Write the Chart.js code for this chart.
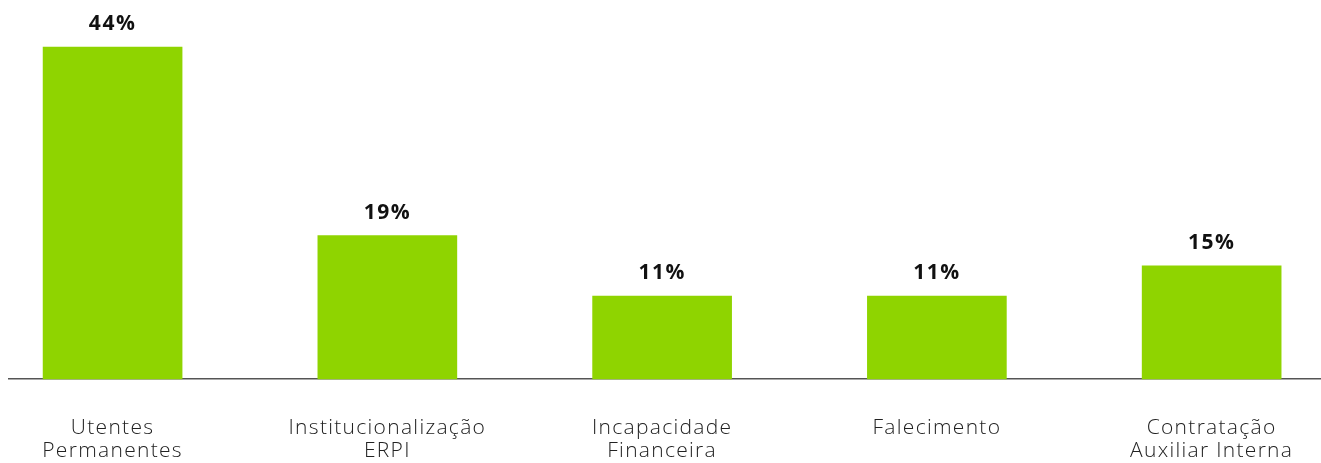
<!DOCTYPE html>
<html>
<head>
<meta charset="utf-8">
<script src="https://cdn.jsdelivr.net/npm/chart.js@4"></script>
<style>
html,body{margin:0;padding:0;background:#fff;}
#wrap{width:1321px;height:463px;position:relative;}
</style>
</head>
<body>
<div id="wrap"><canvas id="c"></canvas></div>
<script>
const categories = [
  ["Utentes", "Permanentes"],
  ["Institucionalização", "ERPI"],
  ["Incapacidade", "Financeira"],
  ["Falecimento"],
  ["Contratação", "Auxiliar Interna"]
];
const values = [44, 19, 11, 11, 15];
const valueLabels = ["44%", "19%", "11%", "11%", "15%"];

const barColor = "#8fd400";

const spacingPlugin = {
  id: "spacing",
  beforeDraw(chart) {
    if ("letterSpacing" in chart.ctx) chart.ctx.letterSpacing = "1.3px";
  }
};

const valueLabelPlugin = {
  id: "valueLabels",
  afterDatasetsDraw(chart) {
    const ctx = chart.ctx;
    const meta = chart.getDatasetMeta(0);
    ctx.save();
    if ("letterSpacing" in ctx) ctx.letterSpacing = "1.5px";
    ctx.font = "bold 21px 'Open Sans', 'DejaVu Sans', sans-serif";
    ctx.fillStyle = "#111";
    ctx.textAlign = "center";
    ctx.textBaseline = "alphabetic";
    meta.data.forEach((bar, i) => {
      ctx.fillText(valueLabels[i], bar.x, bar.y - 17);
    });
    ctx.restore();
  }
};

new Chart(document.getElementById("c"), {
  type: "bar",
  data: {
    datasets: [{
      data: values.map((v, i) => ({ x: i, y: v })),
      backgroundColor: barColor,
      barThickness: 139,
      clip: false
    }]
  },
  options: {
    responsive: true,
    maintainAspectRatio: false,
    animation: false,
    layout: { padding: { top: 47, left: 9, right: 0, bottom: 0 } },
    plugins: { legend: { display: false }, tooltip: { enabled: false } },
    scales: {
      x: {
        type: "linear",
        offset: false,
        min: -0.377,
        max: 4.398,
        afterBuildTicks(scale) {
          scale.ticks = categories.map((c, i) => ({ value: i }));
        },
        afterFit(scale) { scale.height = 84; },
        grid: { display: false, drawTicks: false, offset: false },
        border: { display: true, color: "#555", width: 1.5 },
        ticks: {
          autoSkip: false,
          maxRotation: 0,
          padding: 37,
          color: "#222",
          font: { family: "'Open Sans', 'DejaVu Sans', sans-serif", size: 21, weight: 300, lineHeight: 1.1 },
          callback: (v) => categories[v] || ""
        }
      },
      y: {
        display: false,
        min: 0,
        max: 44
      }
    }
  },
  plugins: [spacingPlugin, valueLabelPlugin]
});
</script>
</body>
</html>
